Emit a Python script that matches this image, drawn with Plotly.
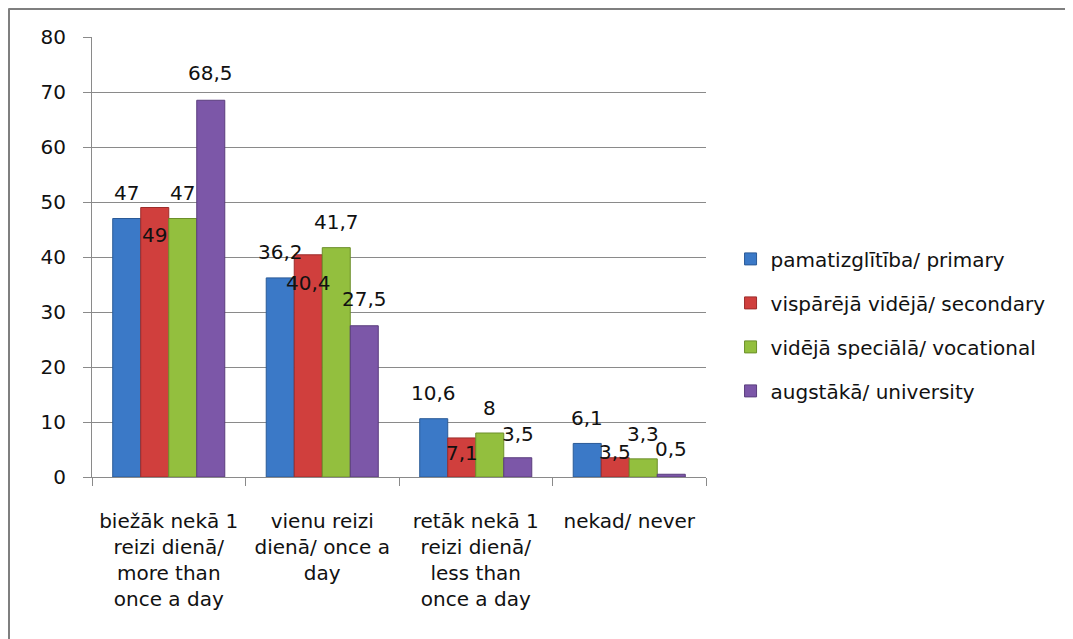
import plotly.graph_objects as go

categories = [
    "biežāk nekā 1<br>reizi dienā/<br>more than<br>once a day",
    "vienu reizi<br>dienā/ once a<br>day",
    "retāk nekā 1<br>reizi dienā/<br>less than<br>once a day",
    "nekad/ never",
]
series_names = [
    "pamatizglītība/ primary",
    "vispārējā vidējā/ secondary",
    "vidējā speciālā/ vocational",
    "augstākā/ university",
]
primary = [47, 36.2, 10.6, 6.1]
secondary = [49, 40.4, 7.1, 3.5]
vocational = [47, 41.7, 8, 3.3]
university = [68.5, 27.5, 3.5, 0.5]
series_values = [primary, secondary, vocational, university]
y_ticks = [0, 10, 20, 30, 40, 50, 60, 70, 80]

# styles
colors = ["#3b79c7", "#d03f3d", "#93bf3e", "#7c57a8"]
edge = ["#2a5a97", "#9c2c2a", "#6c8f2a", "#5a3d7d"]
label_yshift = [
    [26, 26, 26, 25],
    [-27, -28, -15, 6],
    [26, 26, 25, 25],
    [27, 27, 24, 25],
]
BARGAP = 0.27
FONT = "DejaVu Sans"
ML, MT, PW, PH = 84, 29, 614, 440

fig = go.Figure()
for i, (name, vals) in enumerate(zip(series_names, series_values)):
    fig.add_trace(go.Bar(
        x=list(range(len(categories))), y=vals, name=name,
        marker=dict(color=colors[i], line=dict(color=edge[i], width=1)),
        legendgroup=f"g{i}",
    ))

annotations = []
w = (1 - BARGAP) / len(series_values)
for i, vals in enumerate(series_values):
    for j, v in enumerate(vals):
        annotations.append(dict(
            x=j + (i - 1.5) * w, y=v, xref="x", yref="y",
            text=f"{v:g}".replace(".", ","), showarrow=False,
            yanchor="middle", xanchor="center", yshift=label_yshift[i][j],
            font=dict(family=FONT, size=20, color="#111111"),
        ))

grid = "#8a8a8a"
fx = (0.5 - ML) / PW
fy = (MT + PH - 0.5) / PH
fig.update_layout(
    width=1073, height=639,
    margin=dict(l=ML, r=1073 - ML - PW, t=MT, b=639 - MT - PH),
    paper_bgcolor="white", plot_bgcolor="white",
    barmode="group", bargap=BARGAP, bargroupgap=0,
    font=dict(family=FONT, size=20, color="#111111"),
    showlegend=True,
    legend=dict(
        x=1.04, y=0.54, xanchor="left", yanchor="top",
        font=dict(family=FONT, size=20, color="#111111"),
        tracegroupgap=15, traceorder="grouped",
        bgcolor="rgba(0,0,0,0)",
    ),
    annotations=annotations,
    shapes=[
        dict(type="line", xref="paper", yref="paper",
             x0=fx, x1=fx, y0=fy, y1=-1,
             line=dict(color="#7f7f7f", width=3)),
        dict(type="line", xref="paper", yref="paper",
             x0=fx, x1=2, y0=fy, y1=fy,
             line=dict(color="#7f7f7f", width=3)),
    ],
)
fig.update_xaxes(
    type="linear", range=[-0.5, len(categories) - 0.5],
    tickmode="array", tickvals=list(range(len(categories))), ticktext=categories,
    showgrid=False, showline=True, linecolor=grid, linewidth=1,
    ticks="", tickfont=dict(family=FONT, size=20, color="#111111"),
    ticklabelstandoff=26, zeroline=False,
)
fig.update_xaxes(minor=dict(tickmode="array", tickvals=[k - 0.5 for k in range(len(categories) + 1)],
                            ticks="outside", ticklen=8, tickcolor=grid, showgrid=False))
fig.update_yaxes(
    range=[0, 80], tickmode="array", tickvals=y_ticks,
    showgrid=True, gridcolor=grid, gridwidth=1,
    showline=True, linecolor=grid, linewidth=1,
    ticks="outside", ticklen=8, tickcolor=grid,
    tickfont=dict(family=FONT, size=20, color="#111111"),
    ticklabelstandoff=13, zeroline=False,
)

fig.write_html("out.html")
